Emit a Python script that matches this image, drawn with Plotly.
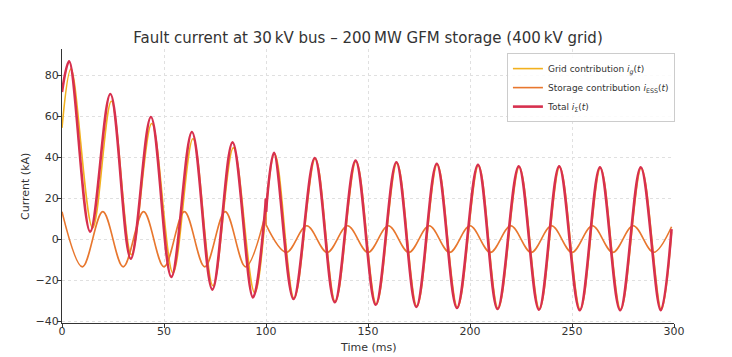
import plotly.graph_objects as go

# ---- data (time in ms, current in kA) ----
# waveform extrema (peaks / troughs) plus end points; the spline passes through them

# grid contribution i_g(t)
t_grid = [0, 4.4, 15.0, 24.2, 34.0, 44.0, 54.4, 64.2, 74.0, 84.0, 94.5,
          104.2, 113.8, 124.2, 134.0, 144.2, 154.1, 164.2, 174.0, 184.0, 193.9,
          204.2, 213.8, 224.2, 234.1, 244.0, 254.1, 264.0, 273.9, 284.0, 293.8, 298.8]
i_grid = [54.5, 83.3, 5.6, 67.5, -7.4, 56.6, -16.4, 49.2, -22.6, 44.7, -26.1,
          42.0, -28.8, 39.5, -30.4, 38.2, -31.6, 37.4, -32.7, 36.7, -33.2,
          36.1, -33.7, 35.4, -34.0, 35.4, -34.3, 34.9, -34.3, 34.9, -34.3, 3.5]

# storage contribution i_ESS(t): before and after the 100 ms step
t_ess_pre = [0, 10, 20, 30, 40, 50, 60, 70, 80, 90, 100]
i_ess_pre = [13.5, -13.4, 13.6, -13.4, 13.6, -13.4, 13.6, -13.4, 13.6, -13.4, 13.6]
t_ess_post = [100, 110, 120, 130, 140, 150, 160, 170, 180, 190, 200,
              210, 220, 230, 240, 250, 260, 270, 280, 290, 298.8]
i_ess_post = [7.2, -6.3, 6.7, -6.3, 6.7, -6.3, 6.7, -6.3, 6.7, -6.3, 6.7,
              -6.3, 6.7, -6.3, 6.7, -6.3, 6.7, -6.3, 6.7, -6.3, 6.2]

# total i_Σ(t): before and after the 100 ms step
t_tot_pre = [0, 3.5, 13.8, 23.7, 33.7, 43.6, 53.6, 63.7, 73.7, 83.6, 93.6, 100]
i_tot_pre = [72, 87, 3.8, 71, -9.4, 59.8, -18.3, 52.5, -24.5, 47.4, -28.3, 20]
t_tot_post = [100, 103.9, 113.5, 123.9, 133.7, 143.9, 153.8, 163.9, 173.7, 183.7, 193.6,
              203.9, 213.5, 223.9, 233.8, 243.7, 253.8, 263.7, 273.6, 283.7, 293.5, 298.8]
i_tot_post = [13.5, 42.3, -29.1, 39.8, -30.7, 38.5, -31.9, 37.7, -33.0, 37.0, -33.5,
              36.4, -34.0, 35.7, -34.3, 35.7, -34.6, 35.2, -34.6, 35.2, -34.6, 5.0]

x_ticks = [0, 50, 100, 150, 200, 250, 300]
y_ticks = [-40, -20, 0, 20, 40, 60, 80]

C_GRID = "#F2B11E"
C_ESS = "#E8772E"
C_TOT = "#D7304E"
FONT = "DejaVu Sans"
TXT = "#333333"

# the page body adds an 8 px offset; the figure is sized so it ends at the window edge
W, H = 724, 349

fig = go.Figure()

fig.add_trace(go.Scatter(
    x=t_grid, y=i_grid, mode="lines",
    line=dict(color=C_GRID, width=1.6, shape="spline"),
    name="Grid contribution <i>i</i><sub><i>g</i></sub>(<i>t</i>)"))

fig.add_trace(go.Scatter(
    x=t_ess_pre + [None] + t_ess_post, y=i_ess_pre + [None] + i_ess_post, mode="lines",
    line=dict(color=C_ESS, width=1.6, shape="spline"), connectgaps=False,
    name="Storage contribution <i>i</i><sub>ESS</sub>(<i>t</i>)"))
fig.add_trace(go.Scatter(
    x=[t_ess_pre[-1], t_ess_post[0]], y=[i_ess_pre[-1], i_ess_post[0]], mode="lines",
    line=dict(color=C_ESS, width=1.6), showlegend=False, hoverinfo="skip"))

fig.add_trace(go.Scatter(
    x=t_tot_pre + [None] + t_tot_post, y=i_tot_pre + [None] + i_tot_post, mode="lines",
    line=dict(color=C_TOT, width=2.6, shape="spline"), connectgaps=False,
    name="Total <i>i</i><sub>Σ</sub>(<i>t</i>)"))
fig.add_trace(go.Scatter(
    x=[t_tot_pre[-1], t_tot_post[0]], y=[i_tot_pre[-1], i_tot_post[0]], mode="lines",
    line=dict(color=C_TOT, width=2.6), showlegend=False, hoverinfo="skip"))

axis_common = dict(
    showline=True, linecolor=TXT, linewidth=1,
    ticks="outside", ticklen=4, tickcolor=TXT, tickwidth=1,
    tickfont=dict(family=FONT, size=11, color=TXT),
    showgrid=True, gridcolor="#e0e0e0", gridwidth=0.8, griddash="dot",
    zeroline=False, mirror=False, automargin=False,
)

fig.update_layout(
    width=W, height=H,
    margin=dict(l=54, r=58, t=41, b=34),
    paper_bgcolor="white", plot_bgcolor="white",
    title=dict(text="Fault current at 30\u2009kV bus \u2013 200\u2009MW GFM storage (400\u2009kV grid)",
               x=0.5, xanchor="center", xref="paper", y=1 - 30 / H, yanchor="middle",
               font=dict(family=FONT, size=15, color=TXT)),
    xaxis=dict(range=[0, 300], tickvals=x_ticks, ticklabelstandoff=-6, **axis_common),
    yaxis=dict(range=[-40.8, 93], tickvals=y_ticks, ticklabelstandoff=-4, **axis_common),
    legend=dict(x=0.727, y=0.985, xanchor="left", yanchor="top",
                bgcolor="rgba(255,255,255,0.85)", bordercolor="#cccccc", borderwidth=1,
                font=dict(family=FONT, size=9, color=TXT), tracegroupgap=0),
    showlegend=True,
    annotations=[
        dict(text="Time (ms)", xref="paper", yref="paper", x=0.5, y=0, yshift=-24,
             xanchor="center", yanchor="middle", showarrow=False,
             font=dict(family=FONT, size=11, color=TXT)),
        dict(text="Current (kA)", xref="paper", yref="paper", x=-0.0605, y=0.5,
             xanchor="center", yanchor="middle", textangle=-90, showarrow=False,
             font=dict(family=FONT, size=11, color=TXT)),
    ],
)

fig.write_html("out.html")
